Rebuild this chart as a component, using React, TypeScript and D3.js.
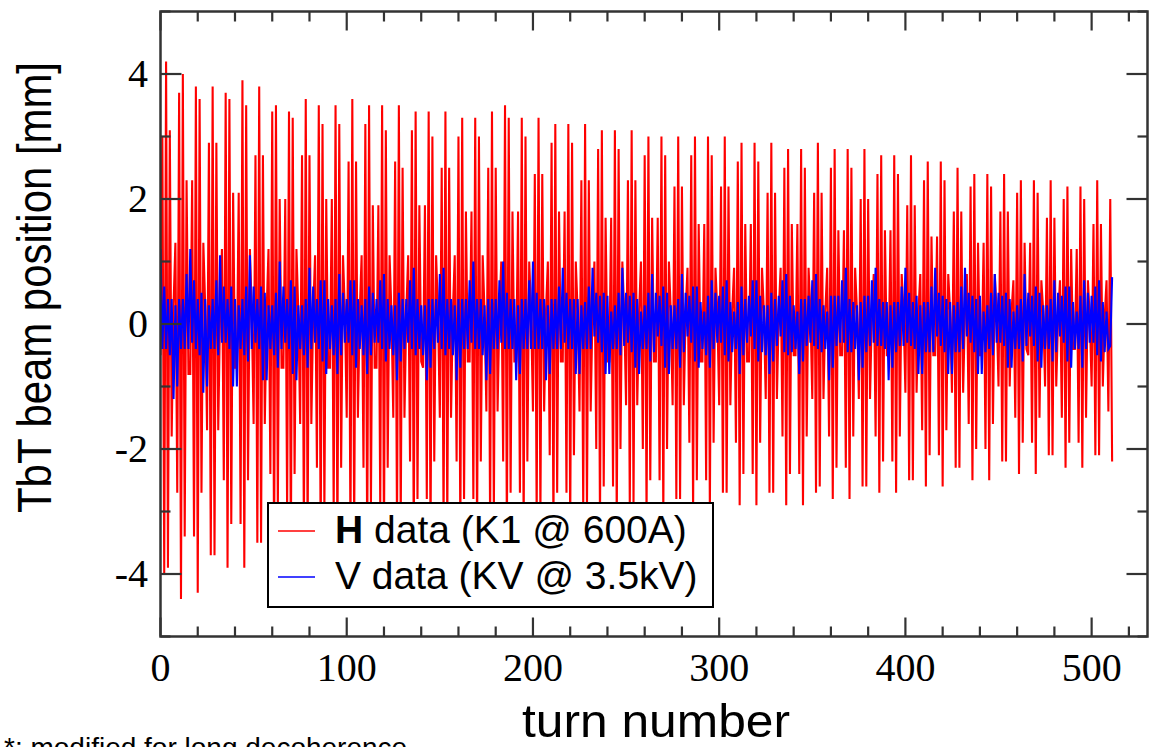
import React from "react";
import * as d3 from "d3";

// Horizontal TbT position (mm), turns 0..511
const hData: number[] = [
  -0.5, 3.0, -4.0, 4.2, -3.9, 3.1, -1.8, 0.3, 1.3, -2.7, 3.7, -4.4, 4.0, -3.4, 2.3, -0.8, -0.8, 2.3, -3.4, 3.8, -4.3, 3.6, -2.7, 1.3, 0.3,
  -1.7, 2.9, -3.7, 3.8, -3.7, 2.9, -1.7, 0.2, 1.2, -2.5, 3.7, -3.9, 3.6, -3.2, 2.1, -0.7, -0.7, 2.1, -3.2, 3.9, -3.9, 3.5, -2.5, 1.2, 0.2,
  -1.6, 2.7, -3.5, 3.8, -3.5, 2.7, -1.6, 0.2, 1.2, -2.4, 3.4, -3.7, 3.5, -3.0, 2.0, -0.7, -0.7, 2.0, -3.0, 3.4, -3.7, 3.3, -2.4, 1.2, 0.2,
  -1.6, 2.7, -3.4, 3.6, -3.4, 2.7, -1.6, 0.2, 1.1, -2.3, 3.5, -3.6, 3.2, -3.0, 2.0, -0.7, -0.7, 2.0, -3.0, 3.5, -3.6, 3.2, -2.3, 1.1, 0.2,
  -1.5, 2.6, -3.4, 3.6, -3.3, 2.6, -1.5, 0.2, 1.1, -2.3, 3.2, -3.6, 3.5, -2.9, 1.9, -0.7, -0.7, 1.9, -2.9, 3.5, -3.5, 3.1, -2.3, 1.1, 0.2,
  -1.5, 2.6, -3.3, 3.5, -3.2, 2.5, -1.5, 0.2, 1.1, -2.2, 3.1, -3.5, 3.4, -2.8, 1.9, -0.6, -0.7, 1.9, -2.8, 3.4, -3.5, 3.0, -2.2, 1.1, 0.2,
  -1.5, 2.5, -3.2, 3.4, -3.2, 2.5, -1.5, 0.2, 1.1, -2.2, 3.0, -3.4, 3.3, -2.8, 1.8, -0.6, -0.6, 1.8, -2.8, 3.3, -3.4, 3.0, -2.2, 1.1, 0.2,
  -1.4, 2.5, -3.2, 3.4, -3.1, 2.5, -1.4, 0.2, 1.0, -2.2, 3.5, -3.4, 3.3, -2.7, 1.8, -0.6, -0.6, 1.8, -2.7, 3.3, -3.3, 3.0, -2.2, 1.0, 0.2,
  -1.4, 2.4, -3.1, 3.3, -3.1, 2.4, -1.4, 0.2, 1.0, -2.1, 2.9, -3.3, 3.2, -2.7, 1.8, -0.6, -0.6, 1.8, -2.7, 3.2, -3.3, 2.9, -2.1, 1.0, 0.2,
  -1.4, 2.3, -3.0, 3.2, -3.0, 2.3, -1.4, 0.2, 1.0, -2.0, 2.8, -3.2, 3.1, -2.6, 1.7, -0.6, -0.6, 1.7, -2.6, 3.1, -3.2, 2.8, -2.0, 1.0, 0.2,
  -1.3, 2.3, -2.9, 3.1, -2.9, 2.3, -1.3, 0.2, 1.0, -2.0, 2.7, -3.1, 3.0, -2.5, 1.7, -0.6, -0.6, 1.7, -2.5, 3.0, -3.1, 2.7, -2.0, 1.0, 0.2,
  -1.3, 2.2, -2.8, 3.0, -2.8, 2.2, -1.3, 0.2, 0.9, -1.9, 2.7, -3.0, 3.0, -2.5, 1.6, -0.6, -0.6, 1.6, -2.5, 3.0, -3.0, 2.7, -1.9, 0.9, 0.2,
  -1.3, 2.2, -2.7, 3.0, -2.7, 2.2, -1.3, 0.2, 0.9, -1.9, 2.6, -2.9, 2.9, -2.4, 1.6, -0.6, -0.6, 1.6, -2.4, 2.9, -2.9, 2.6, -1.9, 0.9, 0.2,
  -1.2, 2.1, -2.7, 2.9, -2.7, 2.1, -1.2, 0.2, 0.9, -1.8, 2.5, -2.9, 2.8, -2.4, 1.6, -0.5, -0.5, 1.6, -2.4, 2.8, -2.9, 2.5, -1.8, 0.9, 0.2,
  -1.2, 2.1, -2.7, 2.9, -2.6, 2.1, -1.2, 0.2, 0.9, -1.8, 2.5, -2.8, 2.8, -2.3, 1.5, -0.5, -0.5, 1.5, -2.3, 2.8, -2.8, 2.5, -1.8, 0.9, 0.2,
  -1.2, 2.0, -2.6, 2.8, -2.6, 2.0, -1.2, 0.2, 0.8, -1.8, 2.4, -2.7, 2.7, -2.2, 1.5, -0.5, -0.5, 1.5, -2.2, 2.7, -2.7, 2.4, -1.8, 0.8, 0.2,
  -1.1, 1.9, -2.5, 2.7, -2.5, 1.9, -1.1, 0.2, 0.8, -1.7, 2.3, -2.6, 2.6, -2.1, 1.4, -0.5, -0.5, 1.4, -2.1, 2.6, -2.6, 2.3, -1.7, 0.8, 0.2,
  -1.1, 1.8, -2.3, 2.5, -2.3, 1.8, -1.1, 0.2, 0.8, -1.6, 2.2, -2.5, 2.4, -2.0, 1.3, -0.5, -0.5, 1.3, -2.0, 2.4, -2.5, 2.2, -1.6, 0.8, 0.2,
  -1.0, 1.8, -2.2, 2.4, -2.2, 1.8, -1.0, 0.2, 0.7, -1.5, 2.1, -2.4, 2.3, -1.9, 1.3, -0.4, -0.5, 1.3, -1.9, 2.3, -2.4, 2.1, -1.5, 0.7, 0.2,
  -1.0, 1.7, -2.1, 2.3, -2.1, 1.7, -1.0, 0.1, 0.7, -1.5, 2.0, -2.3, 2.2, -1.9, 1.2, -0.4, -0.4, 1.2, -1.9, 2.2, -2.3, 2.0, -1.5, 0.7, 0.1,
  -1.0, 1.6, -2.1, 2.3, -2.1, 1.6, -1.0, 0.1, 0.7, -1.4, 2.0, -2.2,
];

// Vertical TbT position (mm), turns 0..511
const vData: number[] = [
  1.2, -0.4, 0.6, -0.4, 0.4, -0.5, 0.4, -1.2, 0.3, -1.0, 0.4, -0.4, 0.4, -0.4, 0.8, -0.4, 1.2, -0.3, 0.7, -0.4, 0.4, -0.5, 0.5, -1.1, 0.4,
  -1.0, 0.3, -0.4, 0.4, -0.4, 0.7, -0.5, 1.1, -0.3, 0.6, -0.3, 0.4, -0.4, 0.6, -1.0, 0.4, -1.0, 0.3, -0.4, 0.4, -0.5, 0.6, -0.6, 1.1, -0.4,
  0.6, -0.3, 0.4, -0.4, 0.6, -0.9, 0.5, -0.9, 0.3, -0.4, 0.3, -0.5, 0.5, -0.7, 1.0, -0.4, 0.6, -0.3, 0.4, -0.4, 0.7, -0.8, 0.6, -0.9, 0.3,
  -0.4, 0.3, -0.5, 0.4, -0.7, 0.9, -0.4, 0.6, -0.3, 0.4, -0.4, 0.7, -0.6, 0.7, -0.8, 0.4, -0.4, 0.3, -0.5, 0.4, -0.8, 0.8, -0.5, 0.5, -0.3,
  0.4, -0.3, 0.7, -0.5, 0.7, -0.7, 0.4, -0.4, 0.3, -0.5, 0.4, -0.8, 0.6, -0.5, 0.5, -0.3, 0.4, -0.3, 0.7, -0.4, 0.8, -0.6, 0.4, -0.4, 0.3,
  -0.5, 0.3, -0.9, 0.5, -0.6, 0.4, -0.4, 0.4, -0.3, 0.7, -0.4, 0.9, -0.5, 0.4, -0.4, 0.3, -0.5, 0.3, -0.9, 0.4, -0.7, 0.4, -0.4, 0.4, -0.3,
  0.8, -0.4, 0.9, -0.5, 0.4, -0.4, 0.4, -0.5, 0.3, -0.9, 0.4, -0.7, 0.4, -0.4, 0.4, -0.4, 0.7, -0.3, 1.0, -0.4, 0.4, -0.4, 0.4, -0.5, 0.3,
  -0.9, 0.4, -0.8, 0.4, -0.4, 0.4, -0.4, 0.7, -0.3, 1.0, -0.4, 0.5, -0.4, 0.4, -0.4, 0.4, -0.9, 0.3, -0.8, 0.4, -0.4, 0.4, -0.4, 0.7, -0.4,
  1.0, -0.4, 0.5, -0.4, 0.4, -0.4, 0.4, -0.9, 0.3, -0.8, 0.4, -0.4, 0.4, -0.4, 0.6, -0.4, 0.9, -0.3, 0.5, -0.4, 0.4, -0.4, 0.4, -0.8, 0.4,
  -0.8, 0.3, -0.4, 0.35, -0.4, 0.6, -0.4, 0.9, -0.2, 0.5, -0.3, 0.45, -0.45, 0.5, -0.8, 0.45, -0.8, 0.2, -0.4, 0.3, -0.4, 0.5, -0.5, 0.9, -0.35,
  0.5, -0.3, 0.45, -0.45, 0.5, -0.7, 0.4, -0.8, 0.2, -0.4, 0.3, -0.4, 0.5, -0.6, 0.8, -0.45, 0.5, -0.2, 0.45, -0.35, 0.6, -0.7, 0.5, -0.8, 0.3,
  -0.4, 0.3, -0.4, 0.4, -0.7, 0.8, -0.45, 0.5, -0.2, 0.45, -0.3, 0.6, -0.6, 0.6, -0.7, 0.35, -0.4, 0.2, -0.5, 0.45, -0.7, 0.7, -0.4, 0.5, -0.3,
  0.45, -0.3, 0.6, -0.5, 0.7, -0.6, 0.35, -0.45, 0.2, -0.4, 0.35, -0.8, 0.6, -0.5, 0.4, -0.3, 0.45, -0.2, 0.7, -0.4, 0.7, -0.6, 0.45, -0.45, 0.3,
  -0.5, 0.3, -0.8, 0.5, -0.6, 0.4, -0.35, 0.45, -0.2, 0.7, -0.45, 0.8, -0.5, 0.45, -0.45, 0.3, -0.4, 0.2, -0.8, 0.4, -0.6, 0.4, -0.35, 0.45, -0.3,
  0.7, -0.35, 0.8, -0.4, 0.4, -0.45, 0.3, -0.4, 0.2, -0.9, 0.45, -0.7, 0.45, -0.35, 0.45, -0.3, 0.7, -0.3, 0.9, -0.45, 0.4, -0.45, 0.35, -0.4, 0.3,
  -0.9, 0.35, -0.7, 0.45, -0.45, 0.45, -0.35, 0.7, -0.3, 0.9, -0.35, 0.4, -0.35, 0.35, -0.4, 0.35, -0.9, 0.3, -0.7, 0.35, -0.45, 0.35, -0.35, 0.6, -0.35,
  0.9, -0.3, 0.5, -0.35, 0.35, -0.4, 0.45, -0.8, 0.3, -0.8, 0.35, -0.45, 0.35, -0.45, 0.6, -0.45, 0.9, -0.2, 0.5, -0.35, 0.45, -0.45, 0.4, -0.8, 0.35,
  -0.8, 0.3, -0.45, 0.35, -0.45, 0.6, -0.4, 0.9, -0.2, 0.5, -0.3, 0.45, -0.45, 0.4, -0.8, 0.45, -0.8, 0.2, -0.45, 0.3, -0.4, 0.5, -0.5, 0.8, -0.3,
  0.5, -0.3, 0.45, -0.35, 0.5, -0.7, 0.4, -0.7, 0.2, -0.4, 0.3, -0.4, 0.4, -0.6, 0.8, -0.35, 0.5, -0.2, 0.45, -0.35, 0.6, -0.6, 0.5, -0.7, 0.3,
  -0.4, 0.3, -0.4, 0.4, -0.6, 0.7, -0.45, 0.5, -0.2, 0.45, -0.3, 0.6, -0.6, 0.6, -0.7, 0.35, -0.4, 0.2, -0.4, 0.45, -0.7, 0.7, -0.4, 0.5, -0.3,
  0.45, -0.3, 0.6, -0.5, 0.7, -0.6, 0.35, -0.45, 0.2, -0.4, -0.35, 0.75,
];

const xMajorTicks = [0, 100, 200, 300, 400, 500];
const yMajorTicks = [-4, -2, 0, 2, 4];
const xTickLabels = ["0", "100", "200", "300", "400", "500"];
const yTickLabels = ["-4", "-2", "0", "2", "4"];
const legendLabels = ["data (K1 @ 600A)", "V data (KV @ 3.5kV)"];

const W = 1149;
const H = 747;
const L = 160.5;
const R = 1147.5;
const T = 11.5;
const B = 636.5;

export default function App() {
  const x = d3.scaleLinear().domain([0, 530]).range([L, R]);
  const y = d3.scaleLinear().domain([-5, 5]).range([B, T]);
  const line = d3
    .line<number>()
    .x((_, i) => x(i))
    .y((d) => y(d));

  const xMinor = d3.range(0, 531, 20).filter((v) => v % 100 !== 0);
  const yMinor = d3.range(-5, 6, 1).filter((v) => v % 2 !== 0);
  const axisColor = "#333";
  const tickW = 2.2;
  const majLen = 19;
  const minLen = 10;

  return (
    <svg
      width={W}
      height={H}
      style={{ position: "absolute", left: 0, top: 0, display: "block", background: "#fff" }}
    >
      <rect x={0} y={0} width={W} height={H} fill="#fff" />
      <defs>
        <clipPath id="plotclip">
          <rect x={L} y={T} width={R - L} height={B - T} />
        </clipPath>
      </defs>
      <g clipPath="url(#plotclip)">
        <path d={line(hData) || ""} fill="none" stroke="#ff0000" strokeWidth={2.1} />
        <path d={line(vData) || ""} fill="none" stroke="#0000ff" strokeWidth={2.1} />
      </g>

      {/* ticks */}
      <g stroke={axisColor} strokeWidth={tickW}>
        {xMajorTicks.map((v) => (
          <g key={"xm" + v}>
            <line x1={x(v)} x2={x(v)} y1={B} y2={B - majLen} />
            <line x1={x(v)} x2={x(v)} y1={T} y2={T + majLen} />
          </g>
        ))}
        {xMinor.map((v) => (
          <g key={"xn" + v}>
            <line x1={x(v)} x2={x(v)} y1={B} y2={B - minLen} />
            <line x1={x(v)} x2={x(v)} y1={T} y2={T + minLen} />
          </g>
        ))}
        {yMajorTicks.map((v) => (
          <g key={"ym" + v}>
            <line x1={L} x2={L + majLen + 2} y1={y(v)} y2={y(v)} />
            <line x1={R} x2={R - majLen - 2} y1={y(v)} y2={y(v)} />
          </g>
        ))}
        {yMinor.map((v) => (
          <g key={"yn" + v}>
            <line x1={L} x2={L + minLen} y1={y(v)} y2={y(v)} />
            <line x1={R} x2={R - minLen} y1={y(v)} y2={y(v)} />
          </g>
        ))}
      </g>

      <rect x={L} y={T} width={R - L} height={B - T} fill="none" stroke={axisColor} strokeWidth={2.5} />

      {/* tick labels */}
      <g fontFamily="'Liberation Serif', 'DejaVu Serif', serif" fontSize={40} fill="#000">
        {xMajorTicks.map((v, i) => (
          <text key={"xl" + v} x={x(v)} y={681} textAnchor="middle">
            {xTickLabels[i]}
          </text>
        ))}
        {yMajorTicks.map((v, i) => (
          <text key={"yl" + v} x={148} y={y(v) + 13} textAnchor="end">
            {yTickLabels[i]}
          </text>
        ))}
      </g>

      {/* axis titles */}
      <text
        x={656}
        y={737}
        textAnchor="middle"
        fontFamily="'Liberation Sans', Arial, sans-serif"
        fontSize={47}
        textLength={268}
        lengthAdjust="spacingAndGlyphs"
      >
        turn number
      </text>
      <text
        transform="translate(51,287.5) rotate(-90)"
        textAnchor="middle"
        fontFamily="'Liberation Sans', Arial, sans-serif"
        fontSize={49}
        textLength={451}
        lengthAdjust="spacingAndGlyphs"
      >
        TbT beam position [mm]
      </text>

      {/* legend */}
      <rect x={268} y={503} width={445} height={104} fill="#fff" stroke="#000" strokeWidth={2} />
      <line x1={278} x2={315} y1={531} y2={531} stroke="#ff0000" strokeWidth={1.5} />
      <line x1={278} x2={315} y1={577} y2={577} stroke="#0000ff" strokeWidth={1.5} />
      <text x={335} y={543} fontFamily="'Liberation Sans', Arial, sans-serif" fontSize={39} fill="#000">
        <tspan fontWeight="bold">H</tspan> {legendLabels[0]}
      </text>
      <text x={335} y={589} fontFamily="'Liberation Sans', Arial, sans-serif" fontSize={39} fill="#000">
        {legendLabels[1]}
      </text>

      {/* footnote (clipped by the bottom edge, as in the original) */}
      <text x={4} y={757} fontFamily="'Liberation Sans', Arial, sans-serif" fontSize={28} fill="#000">
        *: modified for long decoherence
      </text>
    </svg>
  );
}
